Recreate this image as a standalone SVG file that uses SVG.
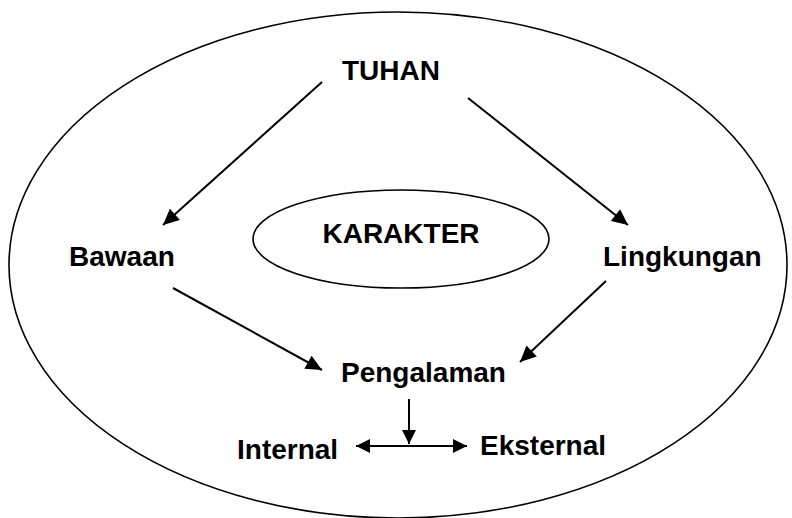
<svg xmlns="http://www.w3.org/2000/svg" width="792" height="518" viewBox="0 0 792 518">
<style>
.lbl{font-family:"Liberation Sans",Arial,sans-serif;font-weight:bold;font-size:28px;fill:#000}
.ell{fill:none;stroke:#000;stroke-width:1.6}
.con{fill:none;stroke:#000;stroke-width:2;marker-end:url(#ah)}
</style>
<defs>
<marker id="ah" markerUnits="userSpaceOnUse" markerWidth="18" markerHeight="18" viewBox="0 0 18 18" refX="17" refY="9" orient="auto-start-reverse">
<path d="M1,1.5 L17,9 L1,16.5 Z" fill="#000"/>
</marker>
<marker id="ahs" markerUnits="userSpaceOnUse" markerWidth="16" markerHeight="16" viewBox="0 0 16 16" refX="15" refY="8" orient="auto-start-reverse">
<path d="M1,1 L15,8 L1,15 Z" fill="#000"/>
</marker>
</defs>
<g id="outer"><ellipse class="ell" cx="398" cy="265" rx="389" ry="253"/></g>
<g id="karakter"><ellipse class="ell" cx="401" cy="239" rx="148" ry="49"/><text class="lbl" x="401" y="243" text-anchor="middle" font-size="26.5">KARAKTER</text></g>
<g id="tuhan"><text class="lbl" x="391" y="80" text-anchor="middle">TUHAN</text></g>
<g id="bawaan"><text class="lbl" x="69" y="266">Bawaan</text></g>
<g id="lingkungan"><text class="lbl" x="603" y="266">Lingkungan</text></g>
<g id="pengalaman"><text class="lbl" x="341" y="382">Pengalaman</text></g>
<g id="internal"><text class="lbl" x="237" y="459">Internal</text></g>
<g id="eksternal"><text class="lbl" x="480" y="455">Eksternal</text></g>
<g id="connectors">
<line class="con" x1="322" y1="82" x2="163" y2="225"/>
<line class="con" x1="468" y1="98" x2="628" y2="225"/>
<line class="con" x1="173" y1="288" x2="322" y2="370"/>
<line class="con" x1="606" y1="281" x2="520" y2="362"/>
<line x1="409" y1="399" x2="409" y2="444" stroke="#000" stroke-width="2" marker-end="url(#ahs)"/>
<line x1="356" y1="446" x2="467" y2="446" stroke="#000" stroke-width="2" marker-start="url(#ahs)" marker-end="url(#ahs)"/>
</g>
</svg>
